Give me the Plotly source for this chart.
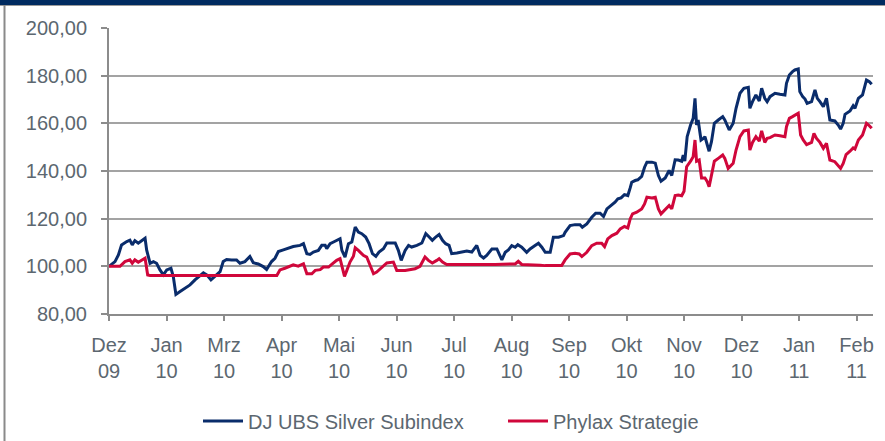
import plotly.graph_objects as go

# trading-day index (0 = start in Dez 09) and index levels
blue_day = [0, 2.3, 3.6, 4.8, 6.8, 8.0, 8.9, 9.9, 11.2, 12.5, 13.8, 14.4, 15.7, 17.0, 18.2, 19.5, 20.8, 22.1, 23.7, 24.6,
            25.6, 27.2, 29.1, 31.0, 32.9, 34.8, 36.1, 37.4, 39.0, 40.6, 42.5, 43.7, 45.0, 46.9, 48.8, 50.1, 52.0, 53.9,
            55.2, 57.1, 59.0, 60.3, 62.2, 63.5, 64.8, 66.7, 68.6, 70.5, 73.1, 74.4, 75.7, 76.9, 78.2, 80.1, 81.4, 82.7,
            83.3, 84.6, 85.9, 87.1, 88.4, 89.1, 90.3, 91.6, 92.9, 94.2, 95.4, 96.7, 98.2, 99.5, 100.8, 102.1, 103.3,
            105.0, 106.3, 108.2, 109.5, 110.7, 111.8, 113.3, 114.6, 115.8, 117.8, 119.7, 121.2, 122.5, 123.7, 125.0,
            126.3, 127.6, 128.8, 130.1, 131.1, 133.1, 135.0, 136.9, 138.8, 140.7, 142.0, 143.3, 144.5, 146.5, 148.4,
            149.3, 150.3, 151.6, 152.8, 154.1, 155.4, 156.4, 157.9, 159.8, 161.1, 163.0, 164.3, 165.6, 166.9, 168.8,
            170.0, 172.0, 173.9, 174.5, 176.4, 178.3, 180.2, 181.1, 182.8, 184.7, 186.2, 187.9, 189.2, 190.5, 191.7,
            193.6, 194.7, 195.9, 197.2, 198.5, 199.4, 200.0, 201.3, 202.3, 203.8, 204.9, 205.8, 207.7, 209.0, 210.2,
            211.2, 212.8, 214.3, 215.3, 216.6, 217.8, 219.1, 219.7, 220.3, 221.2, 222.5, 223.5, 224.2, 224.8, 225.4,
            226.5, 227.4, 228.0, 228.9, 229.6, 230.5, 231.6, 233.1, 234.8, 235.6, 237.3, 238.8, 239.9, 241.4, 242.9,
            244.6, 245.2, 246.2, 247.5, 248.8, 249.7, 250.9, 251.8, 252.9, 254.8, 256.7, 258.6, 259.2, 260.3, 261.5,
            262.4, 263.7, 264.3, 265.4, 266.3, 267.1, 268.8, 270.1, 271.0, 272.0, 273.3, 274.5, 275.8, 277.7, 279.0,
            279.9, 280.9, 281.6, 283.5, 284.7, 285.4, 286.7, 288.3, 289.8, 290.9, 291.8]
blue_val = [100, 102, 104.8, 109, 110.4, 111, 109, 110.8, 109.7, 110.8, 111.8, 106.9, 101.3, 102, 101.3, 98.5, 96.4,
            98.5, 99.2, 95.7, 88.2, 89.4, 90.8, 92.2, 94.3, 95.9, 97.3, 96.4, 94.3, 95.9, 97.8, 102, 102.9, 102.7,
            102.7, 101.3, 102, 104.1, 101.5, 101, 99.9, 98.7, 102, 103.4, 106.2, 106.9, 107.6, 108.3, 108.8, 109.5,
            105.3, 105, 106, 106.7, 108.8, 108.8, 107.4, 109.5, 110.2, 110.9, 111.6, 106.7, 103.9, 109.5, 110.2,
            116.5, 114.4, 113.7, 112.3, 109.5, 105.3, 104.2, 106, 107.4, 109.8, 109.8, 109.8, 106.7, 102.5, 106.7,
            108.8, 108.1, 108.8, 109.8, 113.7, 112.3, 110.9, 112.3, 113.4, 110.9, 109.5, 108.8, 105.3, 105.6, 106,
            106.4, 106, 108.8, 104.6, 103.5, 104.6, 107.3, 107.3, 105.2, 102.7, 105.9, 106.9, 108.7, 108, 109.1, 108,
            105.9, 107.3, 108.7, 109.7, 108, 105.9, 105.9, 112.2, 112.2, 112.9, 114.3, 117.1, 117.5, 117.5, 116.4,
            117.8, 120.6, 122.3, 122.3, 120.9, 124.1, 125.1, 126.9, 128.3, 128.7, 130.1, 129.7, 132.9, 135.3, 136,
            136.3, 137.7, 141.6, 143.7, 143.7, 143.3, 138.1, 135.7, 137.1, 140.2, 138.1, 144.7, 144.6, 144.1, 146.7,
            144.1, 154.4, 159.3, 162.1, 170.5, 159.3, 161.4, 153, 153.7, 154.4, 150.9, 148.3, 152.3, 160, 161.4,
            162.8, 161.4, 157.2, 160, 166.3, 172.6, 174.7, 175.1, 166.3, 169.1, 171.9, 169.4, 174.7, 170.5, 169.1,
            171.2, 172.6, 172.2, 171.9, 176.8, 180.3, 181.7, 182.4, 182.8, 173.3, 171.2, 170.2, 168.4, 169.1, 174,
            170.5, 169.1, 167, 170.5, 161.4, 161, 159.3, 157.6, 160, 163.8, 165.2, 167.4, 166.3, 170.5, 171.9, 178.2,
            177.5, 176.4]

red_day = [0, 4.2, 6.1, 8.0, 8.9, 9.9, 11.2, 12.5, 13.8, 14.8, 15.7, 64.2, 65.4, 67.3, 69.3, 70.5, 72.4, 74.4, 75.7,
           77.6, 78.9, 80.8, 82.0, 84.0, 85.2, 87.1, 88.4, 89.1, 90.1, 91.0, 92.2, 93.5, 94.2, 95.4, 97.3, 98.6, 99.9,
           101.2, 102.4, 104.4, 106.3, 108.8, 110.1, 113.3, 115.2, 117.1, 119.0, 120.9, 122.2, 123.7, 125.4, 126.3,
           127.6, 129.2, 147.7, 155.4, 156.6, 157.9, 164.9, 166.9, 173.2, 174.5, 176.4, 178.3, 179.9, 180.9, 182.8,
           184.7, 186.6, 188.5, 189.6, 190.8, 192.4, 194.3, 195.6, 197.2, 198.5, 199.4, 200.3, 201.9, 203.8, 204.9,
           205.8, 207.7, 209.0, 210.2, 211.2, 212.8, 214.3, 215.3, 216.6, 217.8, 219.1, 220.0, 221.0, 222.5, 223.5,
           224.2, 224.8, 225.8, 226.7, 228.0, 228.9, 229.6, 230.5, 231.6, 233.1, 234.8, 235.6, 236.9, 238.8, 239.9,
           241.4, 242.9, 244.6, 245.2, 246.2, 247.5, 248.8, 249.7, 250.9, 251.8, 252.9, 254.8, 256.7, 258.6, 259.2,
           260.3, 261.5, 262.8, 263.7, 264.6, 265.6, 266.9, 268.8, 269.7, 270.7, 272.0, 273.3, 274.5, 275.8, 277.7,
           279.0, 279.9, 280.9, 282.0, 283.5, 284.7, 285.4, 286.7, 288.3, 289.8, 290.9, 291.8]
red_val = [100, 100, 102, 102.7, 101.3, 102.7, 101.7, 102.7, 103.4, 96.4, 96.2, 96.2, 98.5, 99.2, 99.9, 100.6, 100.1,
           101.1, 96.9, 96.9, 98.3, 98.6, 99.7, 99.7, 100.8, 102.5, 103.2, 100.4, 95.8, 98.3, 101.8, 104.2, 107.8,
           106.7, 104.6, 103.9, 100.4, 96.9, 97.6, 99.7, 101.4, 101.8, 98.3, 98.3, 98.6, 99, 100, 103.9, 102.5, 101.4,
           102.5, 103.2, 101.8, 100.8, 100.8, 101.0, 102.1, 100.8, 100.5, 100.3, 100.3, 102.7, 105.2, 105.5, 105.2,
           104.1, 105.9, 108.7, 109.7, 109.7, 108.3, 111.5, 112.9, 113.9, 115.7, 116.7, 116.1, 119.9, 122, 122.7,
           124.1, 126.2, 129, 128.7, 129, 124.1, 122, 123.7, 125.5, 124.1, 129.7, 129.9, 129.6, 131.5, 141.8, 144.1,
           146, 153, 144.1, 144.6, 137.1, 137.1, 135.5, 133.4, 138.3, 144.1, 145.3, 146.7, 145.3, 141.1, 143.2, 148.8,
           154.4, 156.8, 157.2, 148.8, 152, 154.4, 152.5, 156.8, 152, 153.7, 154, 155.1, 154.8, 154.4, 158.6, 162.1,
           162.8, 163.8, 164.2, 155.1, 153, 151.1, 152, 155.8, 153.7, 152, 149.5, 151.6, 144.6, 143.9, 142.5, 141.1,
           143.2, 146.9, 148.3, 149.7, 149.2, 153, 155.1, 160, 159, 157.9]

tick_days = [0, 22, 44, 66, 88, 110, 132, 154, 176, 198, 220, 242, 264, 286]
tick_labels = ["Dez<br>09", "Jan<br>10", "Mrz<br>10", "Apr<br>10", "Mai<br>10", "Jun<br>10", "Jul<br>10",
               "Aug<br>10", "Sep<br>10", "Okt<br>10", "Nov<br>10", "Dez<br>10", "Jan<br>11", "Feb<br>11"]

W, H = 885, 441
ML, MR, MT, MB = 109, 12, 28, 127
PW, PH = W - ML - MR, H - MT - MB

FONT = "Liberation Sans, Arial, sans-serif"
FS = 20
TXT = "#5c6770"
GRID = "#a3a3a3"

fig = go.Figure()
fig.add_trace(go.Scatter(x=blue_day, y=blue_val, mode="lines", name="DJ UBS Silver Subindex",
                         line=dict(color="#0a2c6b", width=3)))
fig.add_trace(go.Scatter(x=red_day, y=red_val, mode="lines", name="Phylax Strategie",
                         line=dict(color="#d0073b", width=3)))

def px(xp):
    return (xp - ML) / PW

def py(yp):
    return (H - MB - yp) / PH

shapes = [
    dict(type="rect", xref="paper", yref="paper", x0=px(-2), x1=px(W + 2), y0=py(5), y1=py(-2),
         fillcolor="#002b60", line=dict(width=0), layer="above"),
    dict(type="line", xref="paper", yref="paper", x0=px(0), x1=px(W), y0=py(5.5), y1=py(5.5),
         line=dict(color="#9a9a9a", width=1)),
    dict(type="line", xref="paper", yref="paper", x0=px(4.5), x1=px(4.5), y0=py(5), y1=py(H + 2),
         line=dict(color="#8a8a8a", width=2)),
]

fig.update_layout(
    width=W, height=H,
    margin=dict(l=ML, r=MR, t=MT, b=MB, pad=0, autoexpand=False),
    paper_bgcolor="white", plot_bgcolor="white",
    separators=",.",
    font=dict(family=FONT, size=FS, color=TXT),
    showlegend=True,
    legend=dict(orientation="h", xref="container", yref="container", x=198 / W, xanchor="left",
                y=1 - 421 / H, yanchor="middle",
                font=dict(family=FONT, size=FS, color=TXT), itemwidth=40, entrywidth=250,
                entrywidthmode="pixels", tracegroupgap=0, bgcolor="rgba(0,0,0,0)"),
    shapes=shapes,
    xaxis=dict(range=[0, 292.3], tickmode="array", tickvals=tick_days, ticktext=tick_labels,
               showgrid=False, zeroline=False, showline=True, linecolor="#8c8c8c", linewidth=2,
               ticks="outside", ticklen=5, tickwidth=1.5, tickcolor="#8c8c8c",
               tickfont=dict(family=FONT, size=FS, color=TXT), ticklabelstandoff=7),
    yaxis=dict(range=[80, 200], dtick=20, tick0=80, tickformat=".2f",
               showgrid=True, gridcolor=GRID, gridwidth=1.5, zeroline=False,
               showline=True, linecolor="#8c8c8c", linewidth=2,
               ticks="outside", ticklen=6, tickwidth=1.5, tickcolor="#8c8c8c",
               tickfont=dict(family=FONT, size=FS, color=TXT), ticklabelstandoff=10),
)

fig.write_html("out.html", config={"displayModeBar": False},
               post_script="document.body.style.margin='0';")
